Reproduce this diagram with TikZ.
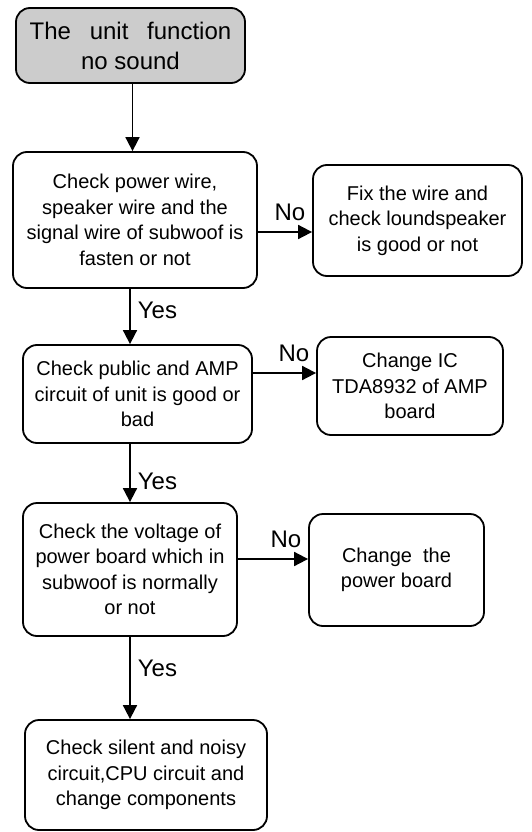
\documentclass[tikz,border=0pt]{standalone}
\usepackage{fontspec}
\setmainfont{Liberation Sans}
\usetikzlibrary{positioning, arrows.meta}

\tikzset{
    box/.style={draw, line width=1.8pt, rounded corners=14pt, align=center, inner sep=0pt,
        font=\fontsize{20}{25.5}\selectfont},
    arr/.style={line width=1.8pt, -{Triangle[length=14pt,width=14pt]}},
    nolabel/.style={pos=1, anchor=south east, inner sep=0pt, xshift=-6pt, yshift=10.5pt,
        font=\fontsize{24}{28}\selectfont},
    yeslabel/.style={anchor=west, inner sep=0pt, xshift=7pt, font=\fontsize{24}{28}\selectfont}
}

\begin{document}
\begin{tikzpicture}[x=1pt, y=1pt]
    \useasboundingbox (0,0) rectangle (532,-832);
    % left column
    \node[box, fill=gray!40, minimum width=229pt, minimum height=75pt, font=\fontsize{24}{30}\selectfont]
        (start) at (130.5,-45.5) {The\hspace{0.78em}unit\hspace{0.78em}function\\no sound};
    \node[box, minimum width=244pt, minimum height=136pt] (q1) at (135,-220)
        {\rule{0pt}{8pt}Check power wire,\\speaker wire and the\\signal wire of subwoof is\\fasten or not};
    \node[box, minimum width=229pt, minimum height=98pt] (q2) at (137.5,-394)
        {Check public and AMP\\circuit of unit is good or\\bad};
    \node[box, minimum width=214pt, minimum height=133pt] (q3) at (130,-569.5)
        {Check the voltage of\\power board which in\\subwoof is normally\\or not};
    \node[box, minimum width=242pt, minimum height=110pt] (q4) at (146,-775)
        {Check silent and noisy\\circuit,CPU circuit and\\change components};
    % right column
    \node[box, minimum width=209pt, minimum height=111pt] (a1) at (417.5,-220.5)
        {Fix the wire and\\check loundspeaker\\is good or not};
    \node[box, minimum width=186pt, minimum height=98pt] (a2) at (410,-386)
        {Change IC\\TDA8932 of AMP\\board};
    \node[box, minimum width=175pt, minimum height=112pt] (a3) at (396.5,-570)
        {Change\ \ the\\power board};

    \draw[arr] ([xshift=2pt]start.south) -- ([xshift=2pt]start.south |- q1.north);
    \draw[arr] (q1.south -| q3) -- (q2.north -| q3) node[yeslabel, pos=0.39] {Yes};
    \draw[arr] (q2.south -| q3) -- (q3.north) node[yeslabel, pos=0.65] {Yes};
    \draw[arr] (q3.south) -- (q4.north -| q3) node[yeslabel, pos=0.38] {Yes};

    \draw[arr] ([yshift=-12pt]q1.east) -- ([yshift=-12pt]q1.east -| a1.west) node[nolabel] {No};
    \draw[arr] ([yshift=21pt]q2.east) -- ([yshift=21pt]q2.east -| a2.west) node[nolabel] {No};
    \draw[arr] ([yshift=10.5pt]q3.east) -- ([yshift=10.5pt]q3.east -| a3.west) node[nolabel] {No};
\end{tikzpicture}
\end{document}
